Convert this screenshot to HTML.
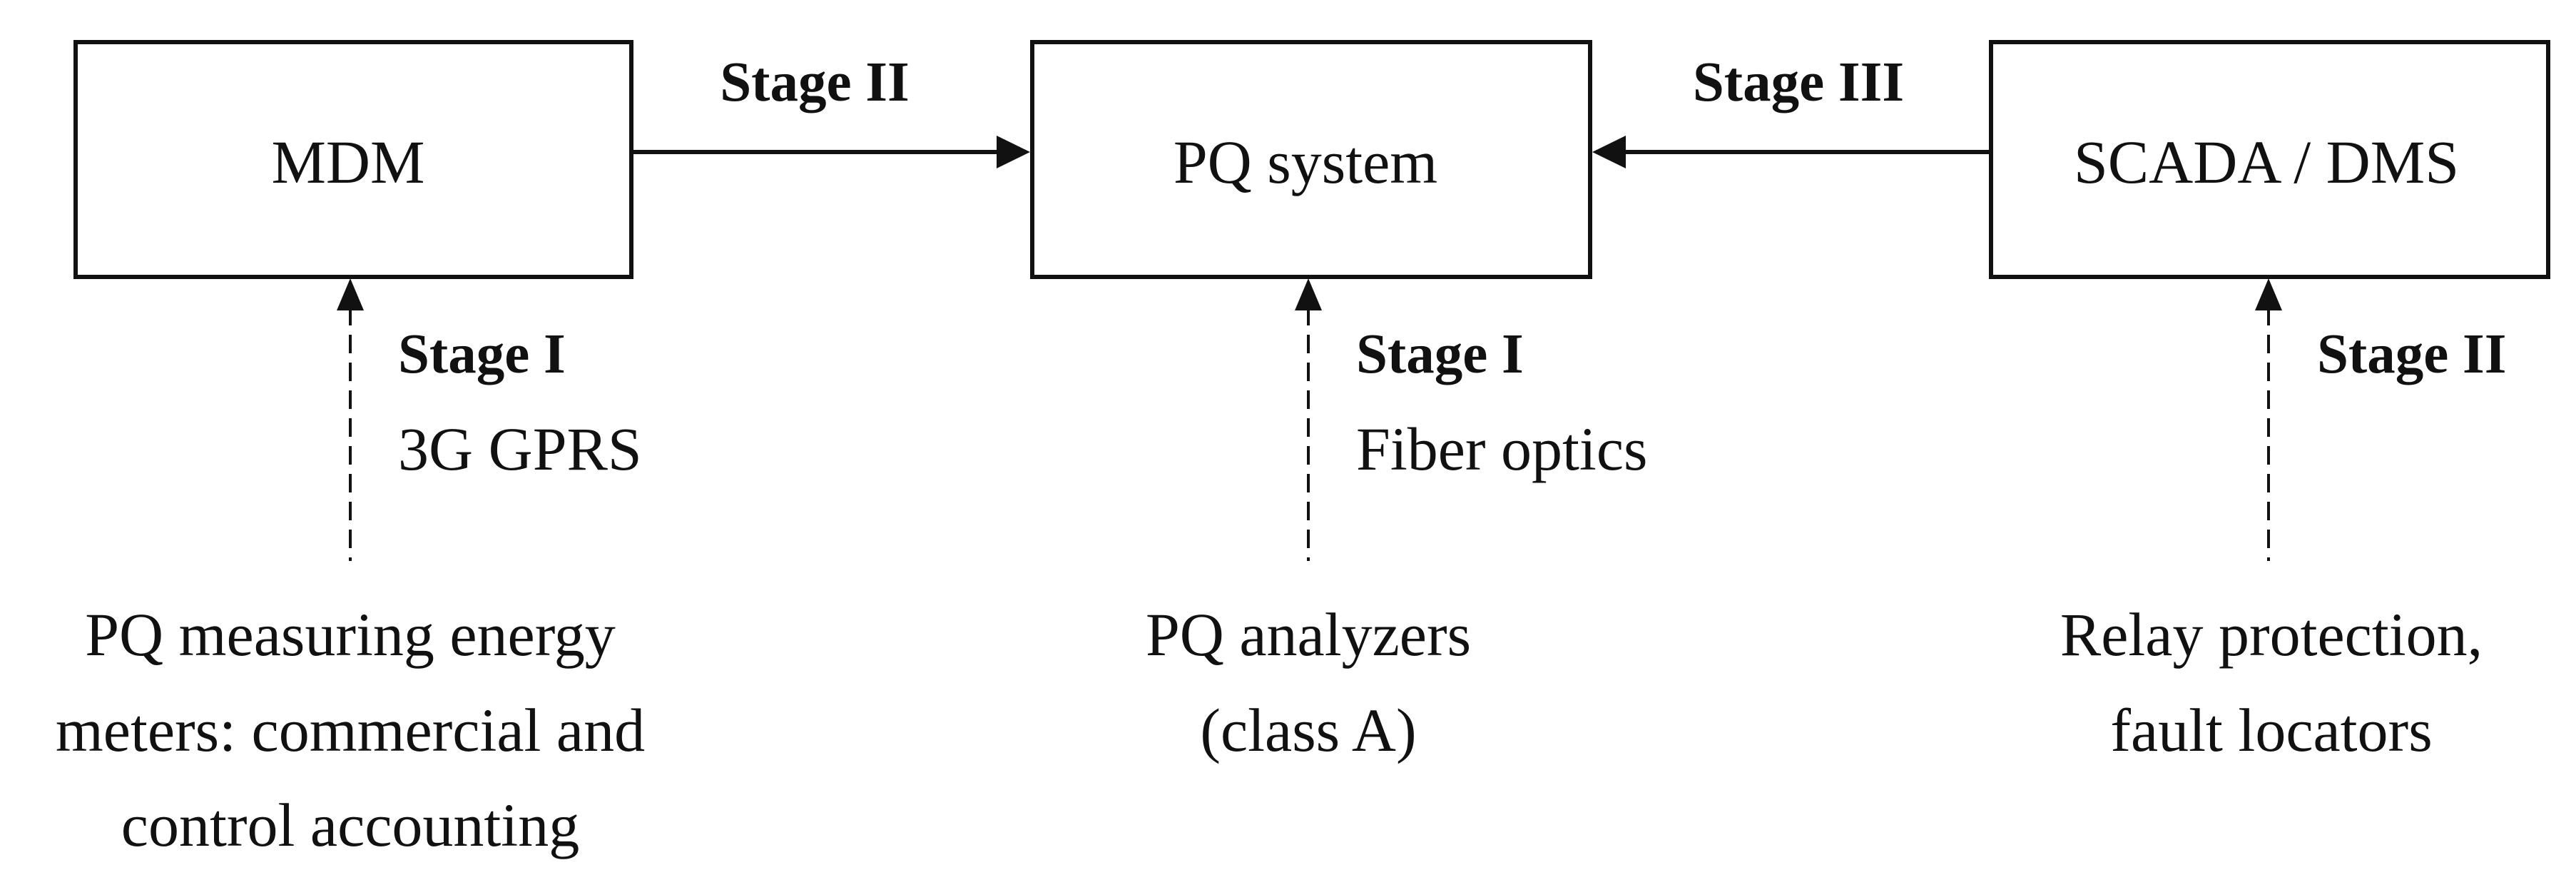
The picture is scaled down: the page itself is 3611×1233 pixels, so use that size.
<!DOCTYPE html>
<html><head><meta charset="utf-8"><style>
html,body{margin:0;padding:0;background:#fff;}
svg{display:block;}
text{font-family:"Liberation Serif",serif;fill:#111;}
.b{font-weight:bold;font-size:79px;}
</style></head><body>
<svg width="3611" height="1233" viewBox="0 0 3611 1233" xmlns="http://www.w3.org/2000/svg">
<g fill="none" stroke="#111" stroke-width="6">
<rect x="106" y="59" width="779" height="329"/>
<rect x="1447" y="59" width="782" height="329"/>
<rect x="2791" y="59" width="781" height="329"/>
<line x1="885" y1="213" x2="1400" y2="213"/>
<line x1="2791" y1="213" x2="2275" y2="213"/>
</g>
<g fill="none" stroke="#111" stroke-width="4" stroke-dasharray="26,13">
<line x1="491" y1="430" x2="491" y2="786"/>
<line x1="1834" y1="430" x2="1834" y2="786"/>
<line x1="3180" y1="430" x2="3180" y2="786"/>
</g>
<g fill="#111">
<polygon points="1444,213 1397,190 1397,236"/>
<polygon points="2232,213 2279,190 2279,236"/>
<polygon points="491,390 472,435 510,435"/>
<polygon points="1834,390 1815,435 1853,435"/>
<polygon points="3180,390 3161,435 3199,435"/>
</g>
<g font-size="86">
<text x="488" y="256" text-anchor="middle">MDM</text>
<text x="1830" y="256" text-anchor="middle">PQ system</text>
<text x="3177" y="256" text-anchor="middle">SCADA / DMS</text>
<text class="b" x="1142" y="141" text-anchor="middle">Stage II</text>
<text class="b" x="2521" y="141" text-anchor="middle">Stage III</text>
<text class="b" x="558" y="522">Stage I</text>
<text x="558" y="658">3G GPRS</text>
<text class="b" x="1901" y="522">Stage I</text>
<text x="1901" y="658">Fiber optics</text>
<text class="b" x="3248" y="522">Stage II</text>
<text x="491" y="918" text-anchor="middle">PQ measuring energy</text>
<text x="491" y="1052" text-anchor="middle">meters: commercial and</text>
<text x="491" y="1185" text-anchor="middle">control accounting</text>
<text x="1834" y="918" text-anchor="middle">PQ analyzers</text>
<text x="1834" y="1052" text-anchor="middle">(class A)</text>
<text x="3184" y="918" text-anchor="middle">Relay protection,</text>
<text x="3184" y="1052" text-anchor="middle">fault locators</text>
</g>
</svg>
</body></html>
